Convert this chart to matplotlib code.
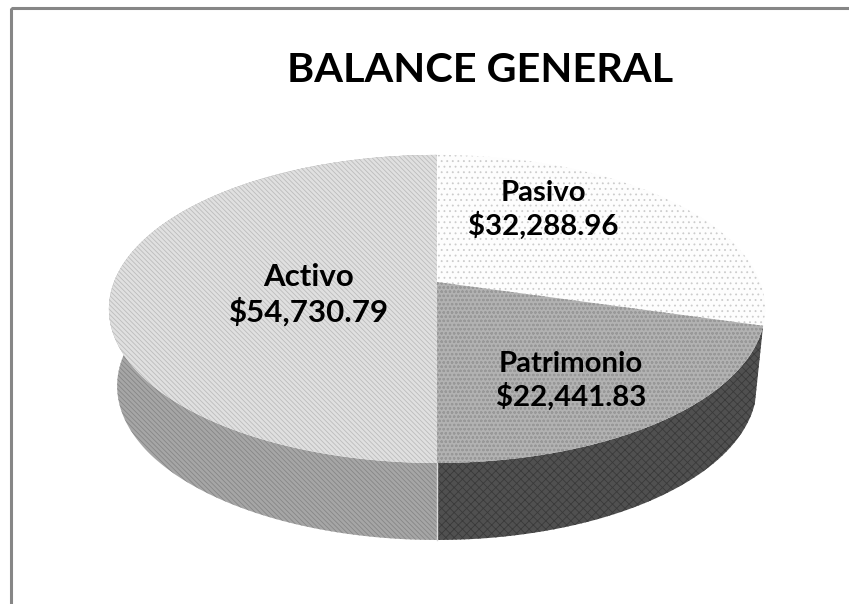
import numpy as np
import matplotlib
matplotlib.use("Agg")
import matplotlib.pyplot as plt
from matplotlib.patches import Polygon, Rectangle

title = "BALANCE GENERAL"
categories = ["Activo", "Pasivo", "Patrimonio"]
values = [54730.79, 32288.96, 22441.83]
labels = ["$54,730.79", "$32,288.96", "$22,441.83"]

W, H = 849, 604
plt.rcParams["hatch.linewidth"] = 0.6
fig = plt.figure(figsize=(W / 100, H / 100), dpi=100, facecolor="white")
ax = fig.add_axes([0, 0, 1, 1])
ax.set_xlim(0, W)
ax.set_ylim(H, 0)
ax.axis("off")

cx, cy, R, Ry, k = 437, 282, 323, 149.3, 0.175
drop, shrink = 77, 0.975


def ring(theta, bottom=False):
    u, v = np.sin(theta), np.cos(theta)
    d = 1 + k * v
    s = shrink if bottom else 1.0
    return np.column_stack([cx + R * s * u / d, cy - Ry * v / d + (drop if bottom else 0)])


styles = {
    "Activo": dict(top=("#e0e0e0", "#bcbcbc", "\\" * 7), wall=("#a6a6a6", "#868686", "\\" * 7)),
    "Pasivo": dict(top=("#fdfdfd", "#cccccc", "...")),
    "Patrimonio": dict(top=("#b2b2b2", "#989898", "oooo"), wall=("#505050", "#3a3a3a", "xxxx")),
}

total = sum(values)
order = ["Pasivo", "Patrimonio", "Activo"]
vals = dict(zip(categories, values))
start = 0.0
spans = {}
for name in order:
    end = start + 2 * np.pi * vals[name] / total
    spans[name] = (start, end)
    start = end

for name in ["Patrimonio", "Activo"]:
    a, b = spans[name]
    t = np.linspace(a, b, 200)
    poly = np.vstack([ring(t), ring(t[::-1], True)])
    fc, ec, h = styles[name]["wall"]
    ax.add_patch(Polygon(poly, closed=True, facecolor=fc, edgecolor=ec, hatch=h, lw=0, zorder=2))

edge = np.array([spans["Patrimonio"][1]])
p = np.vstack([ring(edge), ring(edge, True)])
ax.plot(p[:, 0], p[:, 1], color="#d8d8d8", lw=1, zorder=3)

for name in order:
    a, b = spans[name]
    t = np.linspace(a, b, 200)
    poly = np.vstack([[cx, cy], ring(t)])
    fc, ec, h = styles[name]["top"]
    ax.add_patch(Polygon(poly, closed=True, facecolor=fc, edgecolor=ec, hatch=h, lw=0, zorder=4))

ax.add_patch(Rectangle((11, 7.5), 880, 640, fill=False, edgecolor="#868686", lw=2.2, zorder=1))

font = ["Lato", "DejaVu Sans"]
ax.text(480, 71, title, ha="center", va="center", fontsize=29.8, fontweight="bold", family=font, color="black", zorder=6)
pos = {"Activo": (309, 295, 22.5), "Pasivo": (543, 210, 21.2), "Patrimonio": (571, 381, 21.2)}
for name, lab in zip(categories, labels):
    x, y, fs = pos[name]
    ax.text(x, y, f"{name}\n{lab}", ha="center", va="center", fontsize=fs, fontweight="bold",
            family=font, color="black", linespacing=1.25, zorder=6)

fig.savefig("out.png", dpi=100)
